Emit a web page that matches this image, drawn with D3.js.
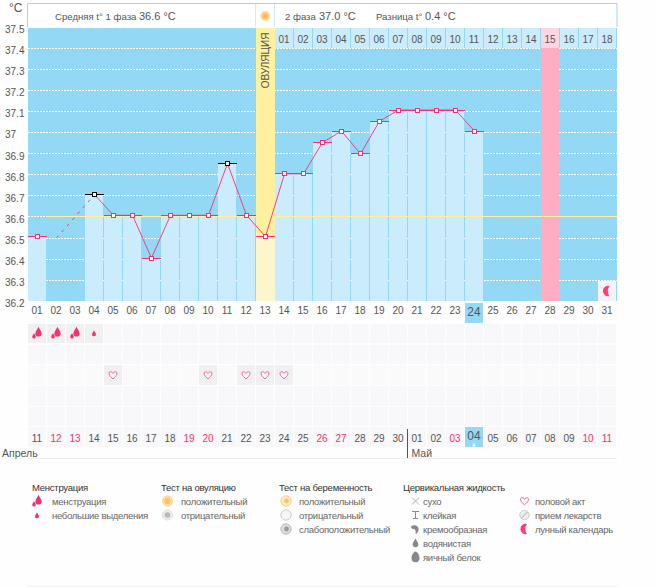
<!DOCTYPE html>
<html><head><meta charset="utf-8">
<script src="https://cdn.jsdelivr.net/npm/d3@7/dist/d3.min.js"></script>
<style>
html,body{margin:0;padding:0;background:#fefefe}
svg{display:block}
text{font-family:"Liberation Sans",Arial,sans-serif;fill:#555}
</style></head><body><svg id="c" width="655" height="587"></svg>
<script>
const days = d3.range(1, 32);
const dayLabels = days.map(d => String(d).padStart(2, "0"));
const temps = [36.507,null,null,36.706,36.608,36.608,36.405,36.608,36.608,36.608,36.854,36.608,36.507,36.805,36.805,36.954,37.008,36.9,37.055,37.108,37.108,37.108,37.108,37.008,null,null,null,null,null,null,null];
const dashedDays = [2, 4];
const dashedVals = [36.5, 36.706];
const blackDays = [4, 11];
const yTicks = [37.5,37.4,37.3,37.2,37.1,37,36.9,36.8,36.7,36.6,36.5,36.4,36.3,36.2];
const coverLine = 36.6;
const ovulationDay = 13;
const phase2Start = 14;
const pinkDay = 28;
const todayDay = 24;
const moonDay = 31;
const dates = ["11","12","13","14","15","16","17","18","19","20","21","22","23","24","25","26","27","28","29","30","01","02","03","04","05","06","07","08","09","10","11"];
const redDates = [2,3,9,10,16,17,23,30,31];
const menstruation = [[1,2],[2,2],[3,2],[4,1]];
const sexDays = [5,10,12,13,14];
const legendGroups = [
 {title:"Менструация", items:["менструация","небольшие выделения"], icons:["drops","drop"]},
 {title:"Тест на овуляцию", items:["положительный","отрицательный"], icons:["ovPos","ovNeg"]},
 {title:"Тест на беременность", items:["положительный","отрицательный","слабоположительный"], icons:["prPos","prNeg","prWeak"]},
 {title:"Цервикальная жидкость", items:["сухо","клейкая","кремообразная","водянистая","яичный белок"], icons:["dry","sticky","creamy","watery","egg"]},
 {title:"", items:["половой акт","прием лекарств","лунный календарь"], icons:["heart","pill","moon"]}
];

const svg = d3.select("#c");
const left = 27.5, right = 616.5, top0 = 27, bot = 300.7;
const x = d3.scaleBand().domain(days).range([left, right]);
const y = d3.scaleLinear().domain([36.2, 37.5]).range([bot, top0]);
const cx = d => x(d) + x.bandwidth() / 2;
const SKY="#93d8f5", LIGHT="#cbecfd", YEL="#fdf09f", PALE="#fdf5cc", PINK="#ffadc2", RED="#f9306f", CELL="#f8f7f9";
const crisp = s => s.attr("shape-rendering","crispEdges");

// plot background
svg.append("rect").attr("x",left).attr("y",top0).attr("width",right-left+.5).attr("height",bot-top0).attr("fill",SKY).call(crisp);

// dotted grid
const grid = svg.append("g").attr("transform",`translate(${left},0)`)
 .call(d3.axisRight(y).tickValues(yTicks).tickSize(right-left).tickFormat(""));
grid.select(".domain").remove();
grid.selectAll("line").attr("stroke","#fff").attr("stroke-dasharray","2,1").attr("stroke-width",1).attr("opacity",d=>d===37.5?0:1).call(crisp);

// ovulation & pink columns
svg.append("rect").attr("x",x(ovulationDay)).attr("y",top0).attr("width",19).attr("height",bot-top0).attr("fill",YEL).call(crisp);
svg.append("rect").attr("x",x(pinkDay)+.5).attr("y",48).attr("width",18).attr("height",bot-48).attr("fill",PINK).call(crisp);

// temperature bars
const pts = days.map((d,i)=>({d,v:temps[i]})).filter(p=>p.v!==null);
svg.append("g").selectAll("rect").data(pts).join("rect")
 .attr("x",p=>x(p.d)+(p.d===1?0:.5)).attr("y",p=>y(p.v))
 .attr("width",p=>p.d===ovulationDay?19:18).attr("height",p=>bot-y(p.v))
 .attr("fill",p=>p.d===ovulationDay?PALE:LIGHT).call(crisp);

// second phase numbers
const ph2 = days.filter(d=>d>=phase2Start);
svg.append("g").selectAll("rect").data(ph2).join("rect")
 .attr("x",d=>x(d)+.5).attr("y",27).attr("width",18).attr("height",21)
 .attr("fill",d=>d===pinkDay?"#fdd5e2":LIGHT).call(crisp);
svg.append("g").selectAll("text").data(ph2).join("text")
 .attr("x",cx).attr("y",43).attr("text-anchor","middle").attr("font-size",10)
 .text(d=>String(d-phase2Start+1).padStart(2,"0"));

// coverline
svg.append("line").attr("x1",x(2)).attr("x2",right+.5).attr("y1",y(coverLine)+.5).attr("y2",y(coverLine)+.5).attr("stroke",YEL).attr("stroke-width",1).call(crisp);

// moon cell
svg.append("rect").attr("x",x(moonDay)+.5).attr("y",281).attr("width",18).attr("height",bot-281).attr("fill","#f5f1f5").call(crisp);

// temperature line
const line = d3.line().x(p=>cx(p.d)+.5).y(p=>y(p.v)+.5);
svg.append("path").datum(pts.filter(p=>p.d>=4)).attr("d",line).attr("fill","none").attr("stroke",RED).attr("stroke-width",.9);
svg.append("path").datum(dashedDays.map((d,i)=>({d,v:dashedVals[i]}))).attr("d",line).attr("fill","none").attr("stroke",RED).attr("stroke-width",.9).attr("stroke-dasharray","3,5");

// value ticks + markers
const isB = p=>blackDays.includes(p.d);
svg.append("g").selectAll("line").data(pts).join("line")
 .attr("x1",p=>x(p.d)).attr("x2",p=>x(p.d)+19).attr("y1",p=>Math.round(y(p.v))+.5).attr("y2",p=>Math.round(y(p.v))+.5)
 .attr("stroke",p=>isB(p)?"#000":RED).attr("stroke-width",1).call(crisp);
svg.append("g").selectAll("rect").data(pts).join("rect")
 .attr("x",p=>Math.round(cx(p.d))-1.5).attr("y",p=>Math.round(y(p.v))-1.5).attr("width",4).attr("height",4)
 .attr("fill","#fff").attr("stroke",p=>isB(p)?"#000":RED).attr("stroke-width",1).call(crisp);

// header
const B="#9ad8f0";
svg.append("rect").attr("x",left).attr("y",3.5).attr("width",right-left).attr("height",24).attr("fill","#fff").call(crisp);
svg.append("path").attr("d",`M${left} 27V3.5H${right+.5}V27`).attr("fill","none").attr("stroke",B);
[255.5,274.5].forEach(a=>svg.append("line").attr("x1",a).attr("x2",a).attr("y1",4).attr("y2",27).attr("stroke",LIGHT).attr("stroke-width",1));
svg.append("circle").attr("cx",265.3).attr("cy",16).attr("r",4.7).attr("fill","#fdd78a").attr("stroke","#fde3b0");
svg.append("circle").attr("cx",265.3).attr("cy",16).attr("r",2.6).attr("fill","#fbb84e");
const hdr=[["Средняя t° 1 фаза",55,9.6],["36.6 °C",139,11],["2 фаза",285,9.6],["37.0 °C",319,11],["Разница t°",376,9.6],["0.4 °C",425,11]];
svg.append("g").selectAll("text").data(hdr).join("text").attr("x",d=>d[1]).attr("y",19.5).attr("font-size",d=>d[2]).text(d=>d[0]);
svg.append("text").attr("transform","translate(269,60.5) rotate(-90)").attr("text-anchor","middle").attr("font-size",10).text("ОВУЛЯЦИЯ");

// y axis labels
const ya = svg.append("g").attr("transform","translate(5,2.5)")
 .call(d3.axisRight(y).tickValues(yTicks).tickSize(0).tickPadding(0).tickFormat(d=>String(d)));
ya.select(".domain").remove();
ya.selectAll("text").attr("font-size",10).attr("fill","#555");
svg.append("text").attr("x",9).attr("y",12).attr("font-size",12).text("°C");

// day axis
svg.append("rect").attr("x",x(todayDay)+.5).attr("y",303).attr("width",18).attr("height",20).attr("fill",SKY).call(crisp);
const xa = svg.append("g").attr("transform","translate(0,303)")
 .call(d3.axisBottom(x).tickSize(0).tickPadding(4).tickFormat((d,i)=>dayLabels[i]));
xa.select(".domain").remove();
xa.selectAll("text").attr("fill","#555").attr("font-size",d=>d===todayDay?12:10);

// calendar cells
const rowY=[323.5,344.5,365,386,406.5,427];
const cells=[];
rowY.forEach((ry,r)=>days.forEach(d=>cells.push({r,ry,d})));
const hasIcon=c=>(c.r===0&&menstruation.some(m=>m[0]===c.d))||(c.r===2&&sexDays.includes(c.d));
svg.append("g").selectAll("rect").data(cells).join("rect")
 .attr("x",c=>x(c.d)+.5).attr("y",c=>c.ry).attr("width",18).attr("height",19.5)
 .attr("fill",c=>hasIcon(c)?"#f0f0f1":(c.r===5&&c.d===todayDay?SKY:(c.r===2?"#fbfafb":CELL))).call(crisp);

// icons
const drop=(s,sx,sy,k,fill)=>s.append("path").attr("transform",`translate(${sx},${sy}) scale(${k})`)
 .attr("d","M0-5C.6-3 3-1 3 1.4A3 3 0 0 1-3 1.4C-3-1-.6-3 0-5Z").attr("fill",fill);
const HEART="M0 3.6C-5-0.2-4.6-3.4-2.4-3.4-1.2-3.4-.4-2.6 0-1.8.4-2.6 1.2-3.4 2.4-3.4 4.6-3.4 5-0.2 0 3.6Z";
const icon={
 drops:(s,a,b)=>{drop(s,a+1.5,b-1,1.05,RED);drop(s,a-3,b+3,.6,RED);},
 drop:(s,a,b)=>drop(s,a,b+.5,.65,RED),
 heart:(s,a,b)=>s.append("path").attr("transform",`translate(${a},${b+.2})`).attr("d",HEART).attr("fill","#fff").attr("stroke","#f8588c").attr("stroke-width",1),
 ovPos:(s,a,b)=>{s.append("circle").attr("cx",a).attr("cy",b).attr("r",5).attr("fill","#fde3b0").attr("stroke","#fbd080");s.append("circle").attr("cx",a).attr("cy",b).attr("r",3.2).attr("fill","#fbc469");},
 ovNeg:(s,a,b)=>{s.append("circle").attr("cx",a).attr("cy",b).attr("r",5).attr("fill","#eee").attr("stroke","#ddd");s.append("circle").attr("cx",a).attr("cy",b).attr("r",2.8).attr("fill","#b8b8b8");},
 prPos:(s,a,b)=>{s.append("circle").attr("cx",a).attr("cy",b).attr("r",5.2).attr("fill","#fdeac4").attr("stroke","#fbd080");s.append("circle").attr("cx",a+.5).attr("cy",b).attr("r",2.4).attr("fill","#fbc469");},
 prNeg:(s,a,b)=>s.append("circle").attr("cx",a).attr("cy",b).attr("r",5.2).attr("fill","#f6f6f6").attr("stroke","#ccc"),
 prWeak:(s,a,b)=>{s.append("circle").attr("cx",a).attr("cy",b).attr("r",5.2).attr("fill","#ddd").attr("stroke","#bbb");s.append("circle").attr("cx",a+.5).attr("cy",b).attr("r",2.4).attr("fill","#999");},
 dry:(s,a,b)=>s.append("path").attr("d",`M${a-3.5} ${b-3.5}L${a+3.5} ${b+3.5}M${a+3.5} ${b-3.5}L${a-3.5} ${b+3.5}`).attr("stroke","#999").attr("stroke-width",.8),
 sticky:(s,a,b)=>s.append("path").attr("d",`M${a-3.5} ${b-3.5}H${a+3.5}M${a} ${b-3.5}V${b+3.5}M${a-2.5} ${b+3.5}H${a+2.5}`).attr("stroke","#888").attr("stroke-width",1).attr("fill","none"),
 creamy:(s,a,b)=>s.append("path").attr("d",`M${a-4} ${b-3}C${a-1} ${b-5} ${a+4} ${b-3} ${a+3} ${b+1}C${a+2.5} ${b+3.5} ${a+1} ${b+5} ${a} ${b+5}C${a+.5} ${b+2} ${a} ${b} ${a-2} ${b}C${a-4} ${b} ${a-5} ${b-2} ${a-4} ${b-3}Z`).attr("fill","#888"),
 watery:(s,a,b)=>drop(s,a,b,.95,"#888"),
 egg:(s,a,b)=>s.append("path").attr("d",`M${a} ${b-5.5}C${a+2.5} ${b-5} ${a+4} ${b-1} ${a+4} ${b+1}A4 4.2 0 0 1 ${a-4} ${b+1}C${a-4} ${b-1} ${a-2.5} ${b-5} ${a} ${b-5.5}Z`).attr("fill","#888"),
 pill:(s,a,b)=>{s.append("circle").attr("cx",a).attr("cy",b).attr("r",4.7).attr("fill","#eee").attr("stroke","#ccc");s.append("line").attr("x1",a-3).attr("y1",b+3).attr("x2",a+3).attr("y2",b-3).attr("stroke","#aaa");},
 moon:(s,a,b)=>s.append("path").attr("d",`M${a+2.5} ${b-5}A5.2 5.2 0 1 0 ${a+2.5} ${b+5}A9 9 0 0 1 ${a+2.5} ${b-5}Z`).attr("fill","#f8407c")
};
menstruation.forEach(([d,k])=>icon[k===2?"drops":"drop"](svg,cx(d),333));
sexDays.forEach(d=>icon.heart(svg,cx(d),375));
icon.moon(svg,cx(moonDay),291);

// date labels
svg.append("g").selectAll("text").data(days).join("text")
 .attr("x",cx).attr("y",d=>d===todayDay?440:441.5).attr("text-anchor","middle")
 .attr("font-size",d=>d===todayDay?12:10)
 .style("fill",d=>redDates.includes(d)?RED:"#555")
 .text((d,i)=>dates[i]);
svg.append("path").attr("transform",`translate(${cx(todayDay)},445)`).attr("d",d3.symbol(d3.symbolTriangle,7)).attr("fill","#fff");

// month labels and rules
svg.append("text").attr("x",2).attr("y",457).attr("font-size",10.5).text("Апрель");
svg.append("text").attr("x",411.5).attr("y",457).attr("font-size",10.5).text("Май");
svg.append("line").attr("x1",407.5).attr("x2",407.5).attr("y1",429).attr("y2",458).attr("stroke","#555");
svg.append("line").attr("x1",27).attr("x2",617).attr("y1",458.5).attr("y2",458.5).attr("stroke","#eee");
svg.append("line").attr("x1",27).attr("x2",617).attr("y1",586.5).attr("y2",586.5).attr("stroke","#eee");

// legend
const legX=[{t:32,i:37,x:52},{t:161,i:167.5,x:181},{t:279,i:286,x:299},{t:403,i:415.5,x:423},{t:0,i:524.5,x:535}];
legendGroups.forEach((g,k)=>{
 const p=legX[k];
 if(g.title) svg.append("text").attr("x",p.t).attr("y",490.5).attr("font-size",9.5).attr("letter-spacing",-.25).style("fill","#333").text(g.title);
 g.items.forEach((it,j)=>{
  const ly=501+14*j;
  icon[g.icons[j]](svg,p.i,ly);
  svg.append("text").attr("x",p.x).attr("y",ly+3.5).attr("font-size",9.5).attr("letter-spacing",-.28).style("fill","#666").text(it);
 });
});
</script></body></html>
